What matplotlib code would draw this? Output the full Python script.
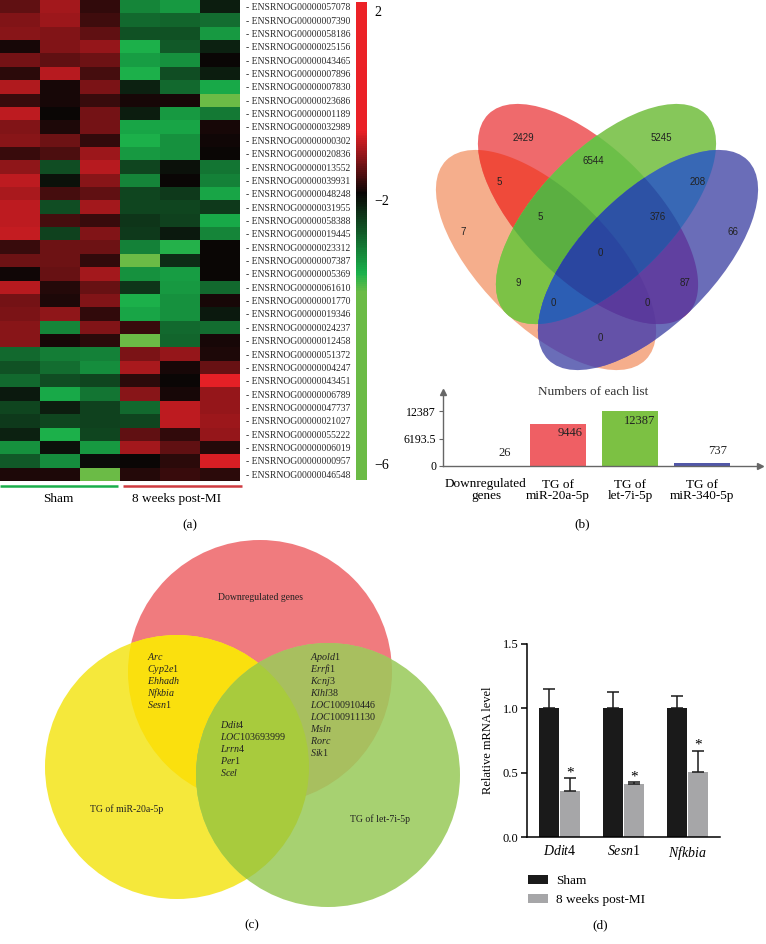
import numpy as np
import matplotlib
matplotlib.use("Agg")
import matplotlib.pyplot as plt
from matplotlib.colors import LinearSegmentedColormap, FuncNorm
from matplotlib.patches import Ellipse, Circle, Polygon

plt.rcParams['font.family'] = ['Liberation Serif', 'DejaVu Serif']
plt.rcParams['mathtext.fontset'] = 'custom'
plt.rcParams['mathtext.it'] = 'Liberation Serif:italic'
plt.rcParams['mathtext.rm'] = 'Liberation Serif'

# ---------------- data ----------------
gene_ids = ["ENSRNOG00000057078", "ENSRNOG00000007390", "ENSRNOG00000058186", "ENSRNOG00000025156",
            "ENSRNOG00000043465", "ENSRNOG00000007896", "ENSRNOG00000007830", "ENSRNOG00000023686",
            "ENSRNOG00000001189", "ENSRNOG00000032989", "ENSRNOG00000000302", "ENSRNOG00000020836",
            "ENSRNOG00000013552", "ENSRNOG00000039931", "ENSRNOG00000048248", "ENSRNOG00000031955",
            "ENSRNOG00000058388", "ENSRNOG00000019445", "ENSRNOG00000023312", "ENSRNOG00000007387",
            "ENSRNOG00000005369", "ENSRNOG00000061610", "ENSRNOG00000001770", "ENSRNOG00000019346",
            "ENSRNOG00000024237", "ENSRNOG00000012458", "ENSRNOG00000051372", "ENSRNOG00000004247",
            "ENSRNOG00000043451", "ENSRNOG00000006789", "ENSRNOG00000047737", "ENSRNOG00000021027",
            "ENSRNOG00000055222", "ENSRNOG00000006019", "ENSRNOG00000000957", "ENSRNOG00000046548"]

sham_expr = [
    [-1.33, -0.94, -1.64], [-1.14, -0.98, -1.53], [-1.10, -1.14, -1.33], [-1.80, -1.14, -1.02],
    [-1.22, -1.33, -1.25], [-1.68, -0.83, -1.49], [-0.87, -1.78, -1.18], [-1.57, -1.78, -1.57],
    [-0.79, -1.86, -1.22], [-1.14, -1.76, -1.22], [-1.10, -1.25, -1.64], [-1.57, -1.45, -0.98],
    [-1.06, -2.40, -0.83], [-0.79, -1.99, -1.10], [-0.90, -1.49, -1.33], [-0.79, -2.40, -0.94],
    [-0.79, -1.49, -1.57], [-0.75, -2.32, -1.14], [-1.60, -1.25, -1.25], [-1.25, -1.25, -1.64],
    [-1.84, -1.29, -0.94], [-0.83, -1.72, -1.29], [-1.22, -1.76, -1.14], [-1.18, -1.06, -1.64],
    [-1.10, -2.82, -1.14], [-1.10, -1.78, -1.68], [-2.61, -2.74, -2.78], [-2.44, -2.65, -2.86],
    [-2.61, -2.40, -2.36], [-2.03, -3.07, -2.69], [-2.36, -2.07, -2.32], [-2.28, -2.36, -2.32],
    [-2.11, -3.11, -2.36], [-2.90, -1.99, -2.94], [-2.49, -2.86, -1.94], [-1.76, -1.76, -3.80]]

mi_expr = [
    [-2.81, -2.94, -2.07], [-2.61, -2.57, -2.65], [-2.44, -2.44, -2.94], [-3.11, -2.49, -2.11],
    [-2.99, -2.90, -1.86], [-3.11, -2.40, -2.07], [-2.11, -2.61, -3.07], [-1.80, -1.80, -3.80],
    [-2.07, -2.94, -2.73], [-3.03, -3.03, -1.80], [-3.11, -2.90, -1.84], [-2.94, -2.90, -1.86],
    [-2.36, -1.99, -2.69], [-2.82, -1.86, -2.78], [-2.36, -2.28, -3.03], [-2.36, -2.36, -2.28],
    [-2.24, -2.32, -3.07], [-2.28, -2.03, -2.82], [-2.78, -3.15, -1.85], [-3.80, -2.19, -1.85],
    [-2.90, -2.99, -1.86], [-2.24, -2.94, -2.61], [-3.11, -2.90, -1.78], [-3.03, -2.90, -2.03],
    [-1.60, -2.61, -2.65], [-3.80, -2.57, -1.78], [-1.18, -1.02, -1.74], [-0.90, -1.78, -1.29],
    [-1.68, -1.85, -0.55], [-1.10, -1.80, -1.02], [-2.61, -0.79, -1.02], [-2.36, -0.79, -0.98],
    [-1.33, -1.64, -1.02], [-0.94, -1.33, -1.72], [-1.86, -1.68, -0.65], [-1.72, -1.60, -1.68]]

cbar_ticks = [2, -2, -6]
cbar_ticklabels = ["2", "\u22122", "\u22126"]

venn_counts = [2429, 5245, 6544, 5, 208, 7, 5, 376, 66, 0, 9, 87, 0, 0, 0]

list_names = ["Downregulated\ngenes", "TG of\nmiR-20a-5p", "TG of\nlet-7i-5p", "TG of\nmiR-340-5p"]
list_counts = [26, 9446, 12387, 737]
list_ticks = [0, 6193.5, 12387]
list_ticklabels = ["0", "6193.5", "12387"]

genes_20a_only = ["Arc", "Cyp2e1", "Ehhadh", "Nfkbia", "Sesn1"]
genes_all3 = ["Ddit4", "LOC103693999", "Lrrn4", "Per1", "Scel"]
genes_let7_only = ["Apold1", "Errfi1", "Kcnj3", "Klhl38", "LOC100910446", "LOC100911130", "Msln", "Rorc", "Sik1"]

qpcr_genes = ["Ddit4", "Sesn1", "Nfkbia"]
sham_mean = [1.0, 1.0, 1.0]
sham_err = [0.15, 0.125, 0.095]
mi_mean = [0.36, 0.41, 0.505]
mi_err = [0.095, 0.015, 0.165]

# ---------------- figure ----------------
W, H = 766, 944
fig = plt.figure(figsize=(W / 100, H / 100), dpi=100)


def px_axes(x0, y0, x1, y1, **kw):
    return fig.add_axes([x0 / W, 1 - y1 / H, (x1 - x0) / W, (y1 - y0) / H], **kw)


def ital(name):
    if name.startswith("LOC"):
        return r"$\mathit{LOC}$" + name[3:]
    core = name.rstrip("0123456789")
    tail = name[len(core):]
    return r"$\mathit{" + core + "}$" + tail


# ---- (a) heatmap ----
xp = [-6.25, -2.0, 2.2]
fp = [0.0, 0.586, 1.0]
norm = FuncNorm((lambda v: np.interp(v, xp, fp), lambda f: np.interp(f, fp, xp)), vmin=-6.25, vmax=2.2)
cmap = LinearSegmentedColormap.from_list("rg", [(0.0, "#6bbb46"), (0.393, "#6bbb46"), (0.433, "#19b04b"),
                                               (0.60, "#0a0606"), (0.732, "#ea2127"), (1.0, "#ec2227")])
mat = np.hstack([np.array(sham_expr), np.array(mi_expr)])
ha = px_axes(0, 0, 240, 481)
im = ha.imshow(mat, cmap=cmap, norm=norm, aspect="auto", interpolation="nearest")
ha.set_xticks([])
ha.yaxis.tick_right()
ha.set_yticks(range(len(gene_ids)))
ha.set_yticklabels(["- " + g for g in gene_ids], fontsize=6.9, color="#2a2a2a")
ha.tick_params(axis="y", length=0, pad=4)
for s in ha.spines.values():
    s.set_visible(False)

cax = px_axes(356, 2, 367, 480)
cb = fig.colorbar(im, cax=cax, ticks=cbar_ticks)
cb.set_ticklabels(cbar_ticklabels)
cb.outline.set_visible(False)
cax.tick_params(length=0, labelsize=10, pad=5)

# overlay axes in pixel coordinates
ov = fig.add_axes([0, 0, 1, 1], zorder=5)
ov.set_xlim(0, W)
ov.set_ylim(H, 0)
ov.axis("off")

ov.plot([0, 118], [486, 486], color="#1aae4b", lw=1.8, solid_capstyle="butt")
ov.plot([123, 242], [486, 486], color="#cf3a40", lw=1.8, solid_capstyle="butt")
ov.text(58, 499, "Sham", ha="center", va="center", fontsize=9.5)
ov.text(177, 499, "8 weeks post-MI", ha="center", va="center", fontsize=9.5)
ov.text(190, 525, "(a)", ha="center", va="center", fontsize=9.5)

# ---- (b) venn: 4 ellipses, each overlap region coloured ----
venn_ells = [(546, 260, 141, 66, 45), (588, 214, 141, 66, 45),
             (606, 214, 141, 66, 135), (648, 260, 141, 66, 135)]


def ell_pts(e, n=720):
    cx, cy, a, b, ang = e
    t = np.linspace(0, 2 * np.pi, n, endpoint=False)
    th = np.deg2rad(ang)
    return np.column_stack([cx + a * np.cos(t) * np.cos(th) - b * np.sin(t) * np.sin(th),
                            cy + a * np.cos(t) * np.sin(th) + b * np.sin(t) * np.cos(th)])


def inside(e, p):
    cx, cy, a, b, ang = e
    th = np.deg2rad(ang)
    dx, dy = p[:, 0] - cx, p[:, 1] - cy
    u = dx * np.cos(th) + dy * np.sin(th)
    v = -dx * np.sin(th) + dy * np.cos(th)
    return (u / a) ** 2 + (v / b) ** 2 <= 1.0001


def inter_poly(idx):
    pts = []
    for i in idx:
        p = ell_pts(venn_ells[i])
        m = np.ones(len(p), bool)
        for j in idx:
            if j != i:
                m &= inside(venn_ells[j], p)
        pts.append(p[m])
    pts = np.vstack(pts)
    c = pts.mean(0)
    order = np.argsort(np.arctan2(pts[:, 1] - c[1], pts[:, 0] - c[0]))
    return Polygon(pts[order], closed=True, transform=ov.transData)


venn_layers = [(0, (), "#f5ae8c"), (1, (), "#ef6a6c"), (1, (0,), "#ef4a3a"),
               (2, (), "#86c75a"), (2, (0,), "#7cc246"), (2, (1,), "#6cbf48"), (2, (0, 1), "#5baf41"),
               (3, (), "#6a6db8"), (3, (0,), "#6452a8"), (3, (1,), "#6040a0"), (3, (0, 1), "#5a3a9c"),
               (3, (2,), "#3868b5"), (3, (0, 2), "#2c5eb4"), (3, (1, 2), "#2d52a5"),
               (3, (0, 1, 2), "#2a46a0")]
for k, clip, col in venn_layers:
    cx, cy, a, b, ang = venn_ells[k]
    e = Ellipse((cx, cy), 2 * a, 2 * b, angle=ang, facecolor=col, edgecolor="none")
    ov.add_patch(e)
    if clip:
        e.set_clip_path(inter_poly(clip))

venn_pos = [(523, 138), (661, 138), (593, 161), (499, 182), (698, 182), (463, 232), (540, 217),
            (658, 217), (733, 232), (600, 253), (518, 283), (685, 283), (553, 303), (647, 303), (600, 338)]
for (x, y), n in zip(venn_pos, venn_counts):
    ov.text(x, y, str(n), ha="center", va="center", fontsize=7, family="Liberation Sans", color="#222222")

# ---- (b) bars ----
bb = px_axes(443, 392, 760, 466)
bar_cols = ["#e8926a", "#ef5f64", "#7cc143", "#5157a8"]
bb.bar(range(4), list_counts, width=0.79, color=bar_cols)
bb.set_xlim(-0.597, 3.806)
bb.set_ylim(0, 16670)
for s in ["top", "right"]:
    bb.spines[s].set_visible(False)
for s in ["left", "bottom"]:
    bb.spines[s].set_color("#666666")
    bb.spines[s].set_linewidth(1.0)
bb.plot(1, 0, ">", color="#666666", ms=4, transform=bb.get_yaxis_transform(), clip_on=False)
bb.plot(0, 1, "^", color="#666666", ms=4, transform=bb.transAxes, clip_on=False)
bb.set_yticks(list_ticks)
bb.set_yticklabels(list_ticklabels, fontsize=8.6)
bb.tick_params(axis="y", length=3, color="#666666", pad=2)
bb.set_xticks(range(4))
bb.set_xticklabels(list_names, fontsize=9.5, linespacing=1.0)
bb.tick_params(axis="x", length=0, pad=9)
bb.patch.set_visible(False)
lab_off = [(19, 13), (12, -9), (10, -10), (16, 12)]
for i, (v, (dx, dy)) in enumerate(zip(list_counts, lab_off)):
    bb.annotate(str(v), (i, v), xytext=(dx * 0.72, dy * 0.72), textcoords="offset points",
                ha="center", va="center", fontsize=9, color="#222222")
ov.text(593, 392, "Numbers of each list", ha="center", va="center", fontsize=9.5, color="#333333")
ov.text(582, 524, "(b)", ha="center", va="center", fontsize=9.5)

# ---- (c) 3-set venn ----
red_c = Circle((260, 672), 132, facecolor="#f07b7e", edgecolor="none")
yel_c = Circle((177, 767), 132, facecolor="#f5e83b", edgecolor="none")
grn_c = Circle((328, 775), 132, facecolor="#a7d171", edgecolor="none")
ov.add_patch(red_c)
ov.add_patch(yel_c)
ry = Circle((177, 767), 132, facecolor="#fae00e", edgecolor="none")
ov.add_patch(ry)
ry.set_clip_path(red_c)
ov.add_patch(grn_c)
gr = Circle((328, 775), 132, facecolor="#a8bf5f", edgecolor="none")
ov.add_patch(gr)
gr.set_clip_path(red_c)
gy = Circle((328, 775), 132, facecolor="#a8cb3d", edgecolor="none")
ov.add_patch(gy)
gy.set_clip_path(yel_c)

ov.text(260, 597, "Downregulated genes", ha="center", va="center", fontsize=7, color="#222222")
ov.text(127, 809, "TG of miR-20a-5p", ha="center", va="center", fontsize=7, color="#222222")
ov.text(380, 819, "TG of let-7i-5p", ha="center", va="center", fontsize=7, color="#222222")
for i, g in enumerate(genes_20a_only):
    ov.text(147, 657 + 12 * i, ital(g), ha="left", va="center", fontsize=7.2, color="#222222")
for i, g in enumerate(genes_all3):
    ov.text(220, 725 + 12 * i, ital(g), ha="left", va="center", fontsize=7.2, color="#222222")
for i, g in enumerate(genes_let7_only):
    ov.text(310, 657 + 12 * i, ital(g), ha="left", va="center", fontsize=7.2, color="#222222")
ov.text(252, 925, "(c)", ha="center", va="center", fontsize=9.5)

# ---- (d) qPCR bars ----
dd = px_axes(527, 644, 720, 837)
x = np.arange(len(qpcr_genes))
w = 0.32
b1 = dd.bar(x - 0.165, sham_mean, width=w, color="#1a1a1a", label="Sham")
b2 = dd.bar(x + 0.165, mi_mean, width=w, color="#a6a6a8", label="8 weeks post-MI")
dd.errorbar(x - 0.165, sham_mean, yerr=[np.zeros(3), sham_err], fmt="none", ecolor="#1a1a1a",
            elinewidth=1.1, capsize=4.2, capthick=1.1)
dd.errorbar(x + 0.165, mi_mean, yerr=[np.zeros(3), mi_err], fmt="none", ecolor="#1a1a1a",
            elinewidth=1.1, capsize=4.2, capthick=1.1)
for xi, m, e in zip(x + 0.165, mi_mean, mi_err):
    dd.annotate("*", (xi, m + e), xytext=(0, 4), textcoords="offset points", ha="center", va="center",
                fontsize=11)
dd.set_xlim(-0.508, 2.508)
dd.set_ylim(0, 1.5)
dd.set_yticks([0, 0.5, 1.0, 1.5])
dd.set_yticklabels(["0.0", "0.5", "1.0", "1.5"], fontsize=9)
dd.set_xticks(x)
dd.set_xticklabels([ital(g) for g in qpcr_genes], fontsize=10)
dd.tick_params(axis="x", length=0, pad=5)
dd.tick_params(axis="y", length=4, width=1.1, pad=2)
for s in ["top", "right"]:
    dd.spines[s].set_visible(False)
for s in ["left", "bottom"]:
    dd.spines[s].set_linewidth(1.1)
dd.set_ylabel("Relative mRNA level", fontsize=9)
dd.yaxis.set_label_coords(-0.17, 0.5)
dd.patch.set_visible(False)
fig.legend([b1, b2], ["Sham", "8 weeks post-MI"], loc="upper left", bbox_to_anchor=(528 / W, 1 - 875 / H),
           frameon=False, borderpad=0, borderaxespad=0, handlelength=1.5, handleheight=0.65,
           handletextpad=0.6, labelspacing=0.55, fontsize=9.5)
ov.text(600, 925, "(d)", ha="center", va="center", fontsize=9.5)

fig.savefig("out.png", dpi=100)
